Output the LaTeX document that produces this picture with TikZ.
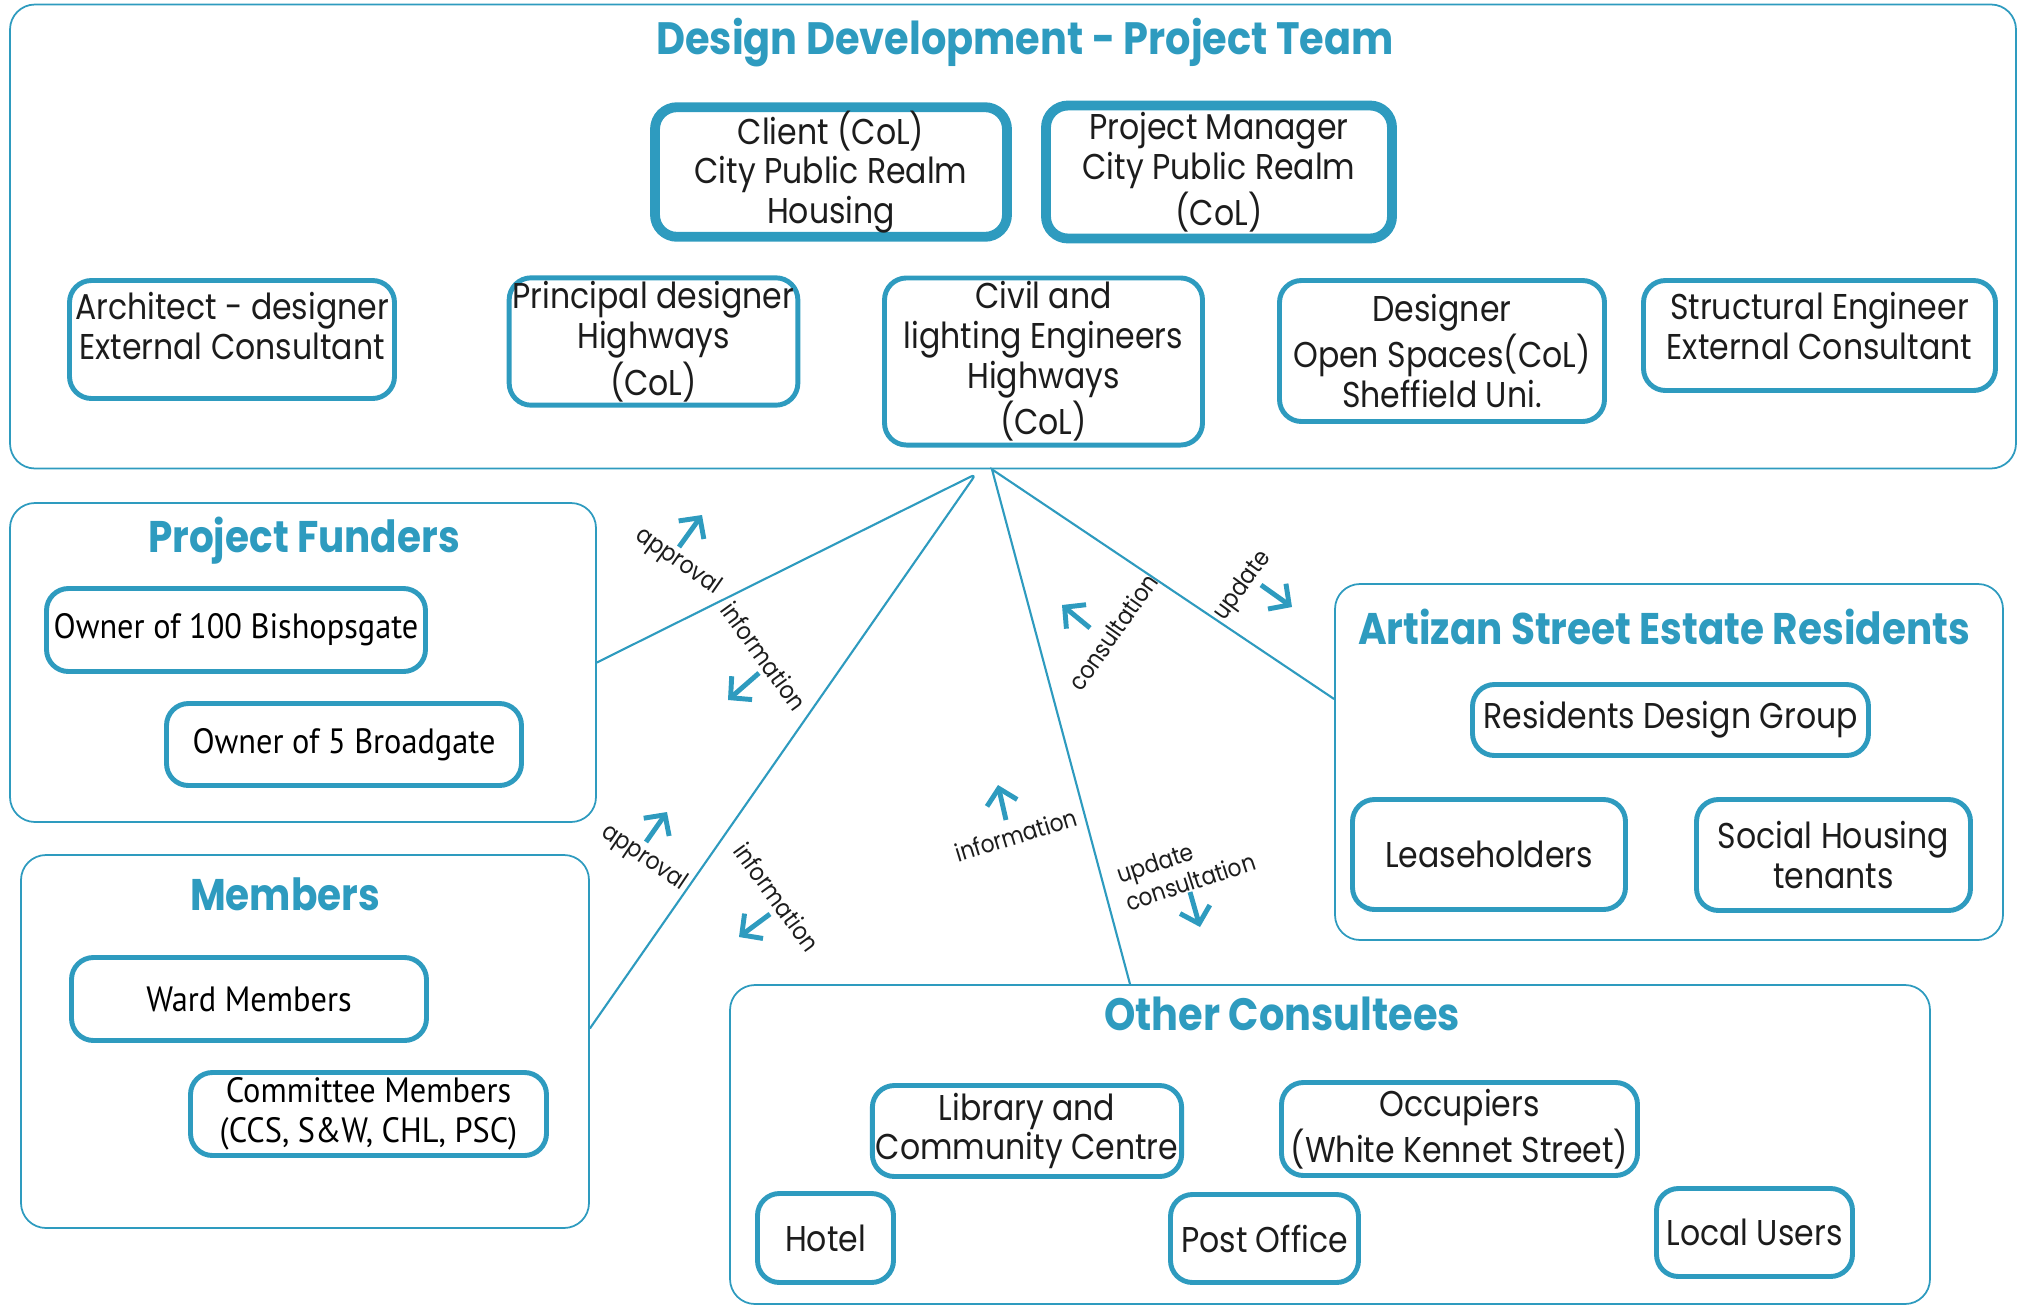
\documentclass[tikz,border=0pt]{standalone}
\usepackage{fontspec}
\setmainfont{Poppins}[FakeStretch=0.88]
\newfontfamily\fundfont{PT Sans}[FakeStretch=0.92]
\usepackage{tikz}
\usetikzlibrary{arrows.meta,calc}
\definecolor{cityblue}{HTML}{2E9BBF}
\definecolor{inkgray}{HTML}{1C1C1C}

\begin{document}
\begin{tikzpicture}[x=0.1mm,y=-0.1mm]
  \tikzstyle{group} = [draw=cityblue,line width=0.5pt,rounded corners=2.5mm,inner sep=0pt]
  \tikzstyle{heading} = [text=cityblue,font=\fontsize{12.6}{15}\selectfont\bfseries]
  \tikzstyle{boxtext} = [align=center,text=inkgray,inner sep=1pt,font=\fontsize{10.2}{11.3}\selectfont]
  \tikzstyle{member} = [boxtext,draw=cityblue,line width=1.4pt,rounded corners=2.2mm]
  \tikzstyle{lead} = [member,line width=2.8pt]
  \tikzstyle{funder} = [member,text=black,font=\fundfont\fontsize{10}{11.3}\selectfont]
  \tikzstyle{link} = [draw=cityblue,line width=0.6pt]
  \tikzstyle{flow} = [draw=cityblue,line width=1.4pt,-{Straight Barb[length=1.5mm,width=3.1mm]}]
  \tikzstyle{note} = [text=inkgray,inner sep=0pt,font=\fontsize{7}{8.2}\selectfont]
  \useasboundingbox (0,0) rectangle (2021,1306);
  %
  % Project team.
  \node[group,minimum width=200.6mm,minimum height=46.4mm] (team) at (1013,236.5) {};
  \node[heading,font=\fontsize{12.9}{15}\selectfont\bfseries] (teamhead) at (1025,43) {Design Development - Project Team};
  \node[lead,minimum width=35.2mm,minimum height=12.9mm] (client) at (831,172) {Client (CoL)\\City Public Realm\\Housing};
  \node[lead,minimum width=34.6mm,minimum height=13.3mm] (manager) at (1219,172) {Project Manager\\City Public Realm\\(CoL)};
  \node[member,minimum width=32.5mm,minimum height=11.8mm] (architect) at (232,339.5) {};
  \node[boxtext] (architecttext) at (232,326) {Architect - designer\\External Consultant};
  \node[member,minimum width=28.6mm,minimum height=12.2mm] (principal) at (653.5,341.5) {Principal designer\\Highways\\(CoL)};
  \node[member,minimum width=31.8mm,minimum height=16.2mm] (civil) at (1043.5,361.5) {Civil and\\lighting Engineers\\Highways\\(CoL)};
  \node[member,minimum width=32.5mm,minimum height=14.1mm] (designer) at (1442,351) {Designer\\Open Spaces(CoL)\\Sheffield Uni.};
  \node[member,minimum width=35.2mm,minimum height=11mm] (structural) at (1819.5,335.5) {};
  \node[boxtext] (structuraltext) at (1819.5,326) {Structural Engineer\\External Consultant};
  % Project funders.
  \node[group,minimum width=58.6mm,minimum height=31.9mm] (funders) at (303,662.5) {};
  \node[heading] (fundershead) at (304,541) {Project Funders};
  \node[funder,minimum width=37.9mm,minimum height=8.3mm] (bishopsgate) at (236,630) {Owner of 100 Bishopsgate};
  \node[funder,minimum width=35.5mm,minimum height=8.2mm] (broadgate) at (344,744.5) {Owner of 5 Broadgate};
  % Members.
  \node[group,minimum width=56.8mm,minimum height=37.3mm] (members) at (305,1041.5) {};
  \node[heading] (membershead) at (285,894) {Members};
  \node[funder,minimum width=35.5mm,minimum height=8.3mm] (ward) at (249,999) {Ward Members};
  \node[funder,minimum width=35.6mm,minimum height=8.3mm] (committee) at (368.5,1114) {Committee Members\\(CCS, S\&W, CHL, PSC)};
  % Residents.
  \node[group,minimum width=66.8mm,minimum height=35.6mm] (artizan) at (1669,762) {};
  \node[heading] (artizanhead) at (1664,627) {Artizan Street Estate Residents};
  \node[member,minimum width=39.6mm,minimum height=7.1mm] (designgroup) at (1670.5,720) {Residents Design Group};
  \node[member,minimum width=27.3mm,minimum height=11mm] (leaseholders) at (1489,854.5) {Leaseholders};
  \node[member,minimum width=27.4mm,minimum height=11.1mm] (tenants) at (1833.5,855) {Social Housing\\tenants};
  % Other consultees.
  \node[group,minimum width=120mm,minimum height=31.9mm] (others) at (1330,1144.5) {};
  \node[heading,font=\fontsize{12.9}{15}\selectfont\bfseries] (othershead) at (1282,1014) {Other Consultees};
  \node[member,minimum width=30.3mm,minimum height=9.1mm] (library) at (1027,1131) {Library and\\Community Centre};
  \node[member,minimum width=35.6mm,minimum height=9.3mm] (occupiers) at (1459.5,1129) {Occupiers\\(White Kennet Street)};
  \node[member,minimum width=13.6mm,minimum height=8.9mm] (hotel) at (825.5,1238) {Hotel};
  \node[member,minimum width=18.8mm,minimum height=8.8mm] (postoffice) at (1264.5,1238.5) {Post Office};
  \node[member,minimum width=19.6mm,minimum height=8.8mm] (localusers) at (1754.5,1232.5) {Local Users};
  %
  % Lines from the team.
  \coordinate (apexL) at (976,474);
  \coordinate (apexR) at ([xshift=-2.1mm]team.south);
  \draw[link,rounded corners=0.6mm] (funders.east) -- (apexL) -- ([yshift=1.3mm]members.east);
  \draw[link] ([xshift=-20mm]others.north) -- (apexR) -- ([yshift=6.3mm]artizan.west);
  % Labels and arrows.
  \node[note,rotate=-35] (approvaltop) at (678,562) {approval};
  \draw[flow] (679,547) -- (702,515);
  \node[note,rotate=-54] (infotop) at (764,656) {information};
  \draw[flow] (759,673) -- (728,700);
  \node[note,rotate=-34] (approvallow) at (644,858) {approval};
  \draw[flow] (646,842) -- (667,812);
  \node[note,rotate=-54] (infolow) at (777,897) {information};
  \draw[flow] (770,914) -- (739,937);
  \node[note,rotate=55] (consult) at (1113,632) {consultation};
  \draw[flow] (1090,628) -- (1062,605);
  \node[note,rotate=54] (update) at (1243,586) {update};
  \draw[flow] (1261,585) -- (1292,607);
  \node[note,rotate=17] (infomid) at (1016,835) {information};
  \draw[flow] (1006,820) -- (998,785);
  \node[note,rotate=18,align=left] (updateconsult) at (1186,868) {update\\consultation};
  \draw[flow] (1190,892) -- (1200,927);
\end{tikzpicture}
\end{document}
